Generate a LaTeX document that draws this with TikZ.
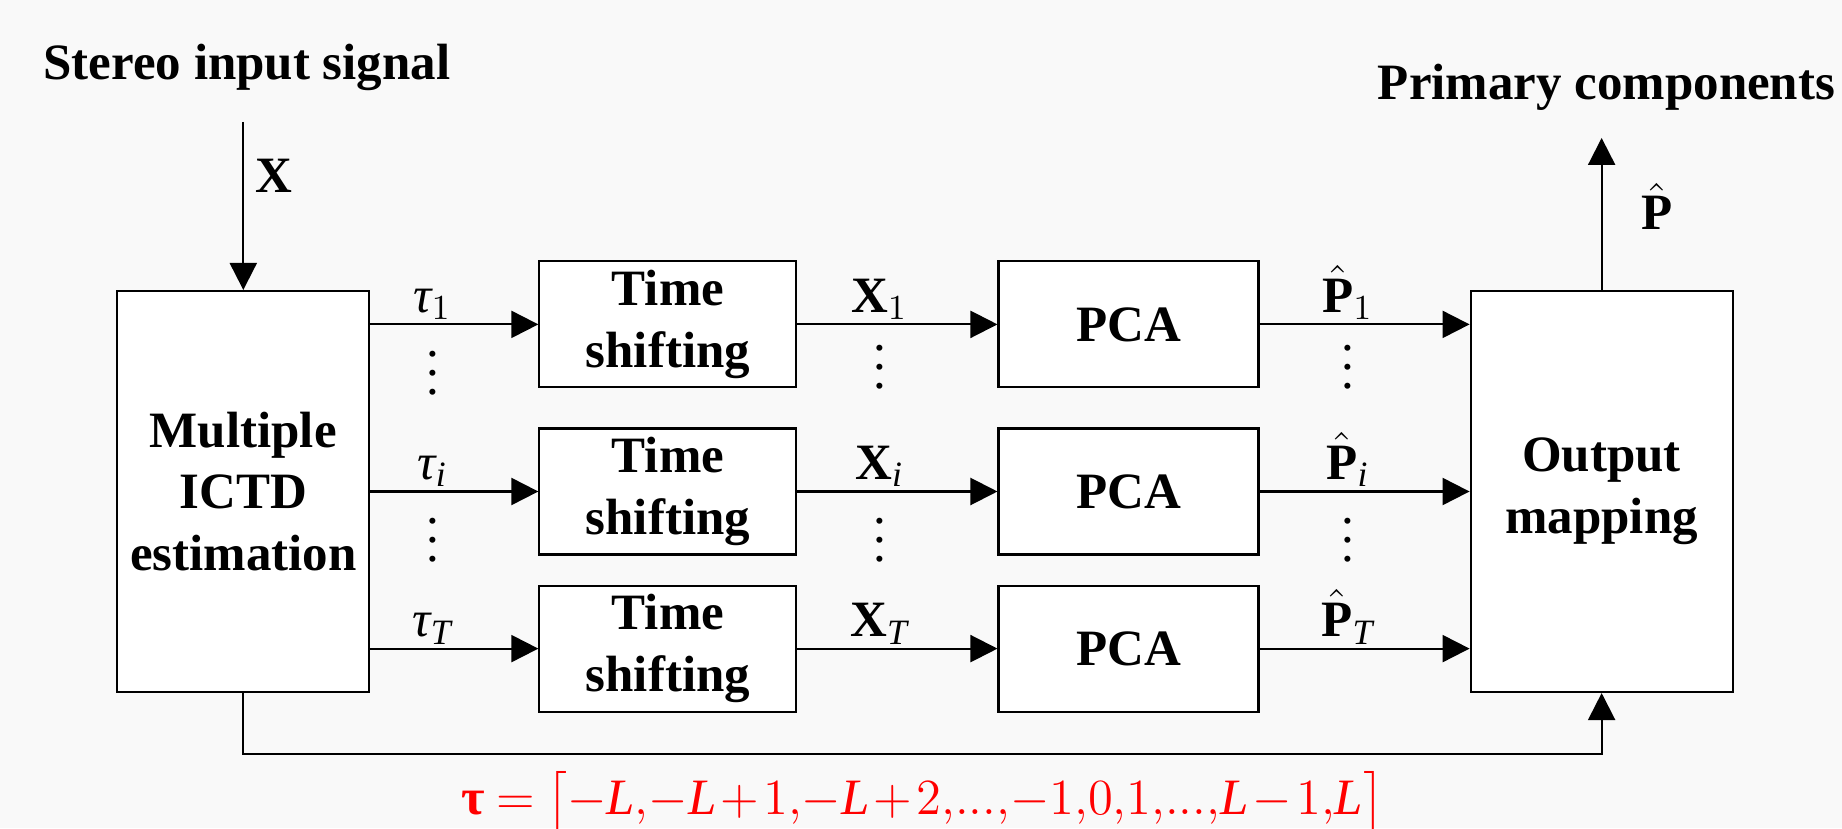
\documentclass[tikz,border=0pt]{standalone}
\usepackage{amsmath}
\usepackage{fontspec}
\setmainfont{Liberation Serif}
\usetikzlibrary{arrows.meta, positioning}
\definecolor{pagebg}{RGB}{249,249,249}
\newcommand{\dotcol}{\vbox{\baselineskip=5.4pt\lineskiplimit=0pt\hbox{.}\hbox{.}\hbox{.}}}
\newcommand{\vi}[1]{\textit{#1}}
\newcommand{\vb}[1]{\textbf{#1}}

\begin{document}
\begin{tikzpicture}[
    font=\fontsize{14.5}{17.5}\selectfont,
    box/.style={draw, line width=0.6pt, fill=white, align=center,
                inner sep=0pt, minimum height=12.6mm,
                font=\fontsize{14.5}{17.5}\selectfont\bfseries},
    shiftbox/.style={box, minimum width=25.7mm},
    pcabox/.style={box, minimum width=26.0mm},
    bigbox/.style={box, minimum width=25.2mm, minimum height=40.1mm},
    title/.style={anchor=base, font=\fontsize{14.5}{17.5}\selectfont\bfseries},
    flow/.style={-{Triangle[length=2.7mm, width=2.7mm]}, line width=0.6pt},
    lab/.style={inner sep=1pt},
    dotsn/.style={inner sep=0pt},
]
\fill[pagebg] (0,0) rectangle (18.42,8.28);
\useasboundingbox (0,0) rectangle (18.42,8.28);
\node[bigbox] (ictd) at (2.433,3.365) {Multiple\\ ICTD\\ estimation};
\node[shiftbox, right=16.8mm of ictd] (ts2) {Time\\ shifting};
\node[shiftbox, above=3.9mm of ts2] (ts1) {Time\\ shifting};
\node[shiftbox, below=2.9mm of ts2] (ts3) {Time\\ shifting};
\node[pcabox, right=20.0mm of ts1] (pca1) {PCA};
\node[pcabox, right=20.0mm of ts2] (pca2) {PCA};
\node[pcabox, right=20.0mm of ts3] (pca3) {PCA};
\node[bigbox, minimum width=26.2mm, right=21.0mm of pca2] (out) {Output\\ mapping};
\node[title] (stereo) at (2.47,7.48) {Stereo input signal};
\node[title] (prim) at (16.065,7.28) {Primary components};
\coordinate (xin) at ([yshift=16.8mm]ictd.north);
\coordinate (pout) at ([yshift=15.2mm]out.north);
\draw[flow] (xin) -- node[lab, right=0.8mm, pos=.32] {$\vb{X}$} (ictd);
\draw[flow] (out) -- node[lab, right=3.5mm, pos=.55] {$\hat{\vb{P}}$} (pout);
\draw[flow] (ictd.east |- ts1) -- node[lab, above, pos=.37] (t1) {$\vi{τ}_1$} (ts1);
\draw[flow] (ictd.east |- ts2) -- node[lab, above, pos=.37] (ti) {$\vi{τ}_{\vi{i}}$} (ts2);
\draw[flow] (ictd.east |- ts3) -- node[lab, above, pos=.37] (tT) {$\vi{τ}_{\vi{T}}$} (ts3);
\draw[flow] (ts1) -- node[lab, above, pos=.41] (x1) {$\vb{X}_1$} (pca1);
\draw[flow] (ts2) -- node[lab, above, pos=.41] (xi) {$\vb{X}_{\vi{i}}$} (pca2);
\draw[flow] (ts3) -- node[lab, above, pos=.41] (xT) {$\vb{X}_{\vi{T}}$} (pca3);
\draw[flow] (pca1) -- node[lab, above, pos=.42] (p1) {$\hat{\vb{P}}_1$} (out.west |- pca1);
\draw[flow] (pca2) -- node[lab, above, pos=.42] (pi) {$\hat{\vb{P}}_{\vi{i}}$} (out.west |- pca2);
\draw[flow] (pca3) -- node[lab, above, pos=.42] (pT) {$\hat{\vb{P}}_{\vi{T}}$} (out.west |- pca3);
\node[dotsn, below=2.6mm of t1] {\dotcol};
\node[dotsn, below=2.6mm of ti] {\dotcol};
\node[dotsn, below=2.0mm of x1] {\dotcol};
\node[dotsn, below=2.6mm of xi] {\dotcol};
\node[dotsn, below=2.0mm of p1] {\dotcol};
\node[dotsn, below=2.6mm of pi] {\dotcol};
\draw[flow] (ictd.south) -- ++(0,-0.61) -| (out.south);
\node[anchor=base, text=red] (tau) at (9.23,0.14)
   {\thinmuskip=0mu \medmuskip=1.5mu \thickmuskip=4mu
    $\vb{τ}=\bigl[-\vi{L},-\vi{L}+1,-\vi{L}+2,...,-1,0,1,...,\vi{L}-1,\vi{L}\bigr]$};
\end{tikzpicture}
\end{document}
